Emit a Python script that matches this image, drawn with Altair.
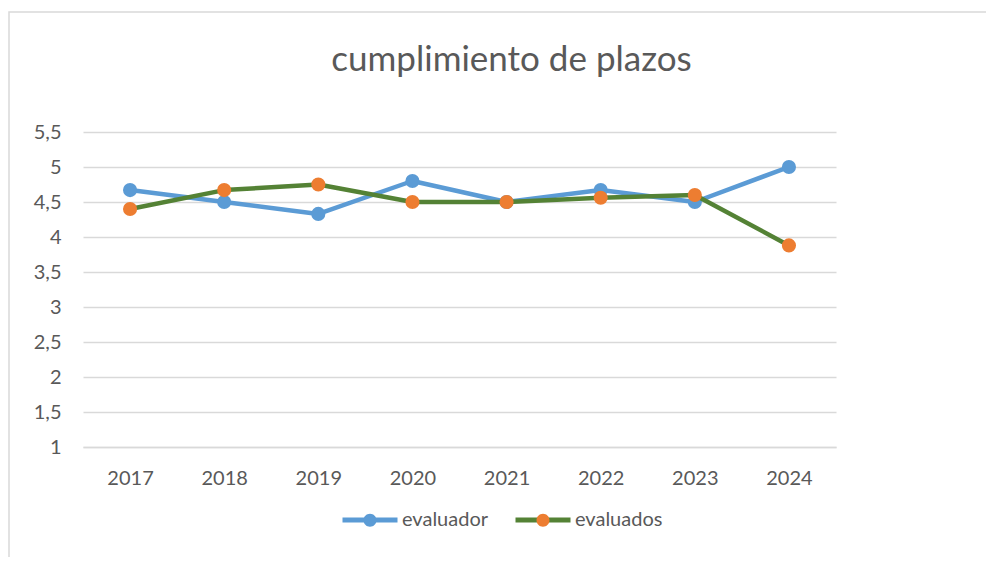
import altair as alt
import pandas as pd

years = ["2017", "2018", "2019", "2020", "2021", "2022", "2023", "2024"]
evaluador = [4.67, 4.5, 4.33, 4.8, 4.5, 4.67, 4.5, 5.0]
evaluados = [4.4, 4.67, 4.75, 4.5, 4.5, 4.56, 4.6, 3.88]
series_names = ["evaluador", "evaluados"]
line_colors = ["#5B9BD5", "#548235"]
marker_colors = ["#5B9BD5", "#ED7D31"]
y_ticks = [1, 1.5, 2, 2.5, 3, 3.5, 4, 4.5, 5, 5.5]

rows = []
for name, vals in zip(series_names, [evaluador, evaluados]):
    for yr, v in zip(years, vals):
        rows.append({"anio": yr, "valor": v, "serie": name})
df = pd.DataFrame(rows)

FONT = "Lato"
TXT = "#595959"
GRID = "#D9D9D9"

x_enc = alt.X("anio:O", sort=years,
              scale=alt.Scale(type="point", padding=0.5),
              axis=alt.Axis(title=None, labelAngle=0, ticks=False,
                            domainColor=GRID, domainWidth=1.5,
                            labelFont=FONT, labelFontSize=20, labelColor=TXT,
                            labelPadding=21))
y_enc = alt.Y("valor:Q",
              scale=alt.Scale(domain=[1, 5.5], nice=False, zero=False),
              axis=alt.Axis(title=None, values=y_ticks, domain=False, ticks=False,
                            gridColor=GRID, gridWidth=1.5,
                            labelFont=FONT, labelFontSize=20, labelColor=TXT,
                            labelPadding=22,
                            labelExpr="replace(format(datum.value, '.1~f'), '.', ',')"))

color_enc = alt.Color("serie:N",
                      scale=alt.Scale(domain=series_names, range=line_colors),
                      legend=alt.Legend(title=None, orient="none", direction="horizontal",
                                        legendX=257, legendY=358,
                                        symbolType="stroke", symbolSize=3025,
                                        symbolStrokeWidth=5,
                                        labelFont=FONT, labelFontSize=20, labelColor=TXT,
                                        labelOffset=2, columnPadding=16, padding=0,
                                        zindex=0))
fill_enc = alt.Fill("s2:N",
                    scale=alt.Scale(range=marker_colors),
                    legend=alt.Legend(title=None, orient="none", direction="horizontal",
                                      legendX=257, legendY=358,
                                      symbolType="M-1,0L1,0M0.236,0A0.236,0.236,0,1,1,-0.236,0A0.236,0.236,0,1,1,0.236,0Z",
                                      symbolSize=3025, symbolStrokeWidth=5,
                                      symbolStrokeColor="transparent", symbolOpacity=1,
                                      labelFont=FONT, labelFontSize=20, labelColor=TXT,
                                      labelOpacity=0,
                                      labelOffset=2, columnPadding=16, padding=0,
                                      zindex=1))

base = alt.Chart(df)

def line_layer(name):
    return base.transform_filter(alt.datum.serie == name).mark_line(
        strokeWidth=4.5, strokeCap="round", strokeJoin="round"
    ).encode(x=x_enc, y=y_enc, color=color_enc)

def point_layer(name):
    return base.transform_filter(alt.datum.serie == name).transform_calculate(
        s2="datum.serie"
    ).mark_point(filled=True, size=200, opacity=1, strokeWidth=0).encode(
        x=x_enc, y=y_enc, fill=fill_enc)

frame = alt.Chart(pd.DataFrame({"a": [0]})).mark_rect(
    fill="transparent", stroke=GRID, strokeWidth=1.5
).encode(x=alt.value(-74), x2=alt.value(940), y=alt.value(-120), y2=alt.value(470))

chart = alt.layer(
    frame,
    line_layer("evaluador"), point_layer("evaluador"),
    line_layer("evaluados"), point_layer("evaluados"),
).properties(
    width=753, height=315,
    title=alt.Title("cumplimiento de plazos", font=FONT, fontSize=35,
                    fontWeight="normal", color=TXT, anchor="middle", dx=52,
                    offset=0, dy=67, frame="group"),
    autosize=alt.AutoSizeParams(type="none"),
    padding={"left": 75, "top": 124, "right": 150, "bottom": 110},
).configure(background="white").configure_view(strokeWidth=0, stroke="transparent")

chart.save("out.html", embed_options={"renderer": "svg", "actions": False})
